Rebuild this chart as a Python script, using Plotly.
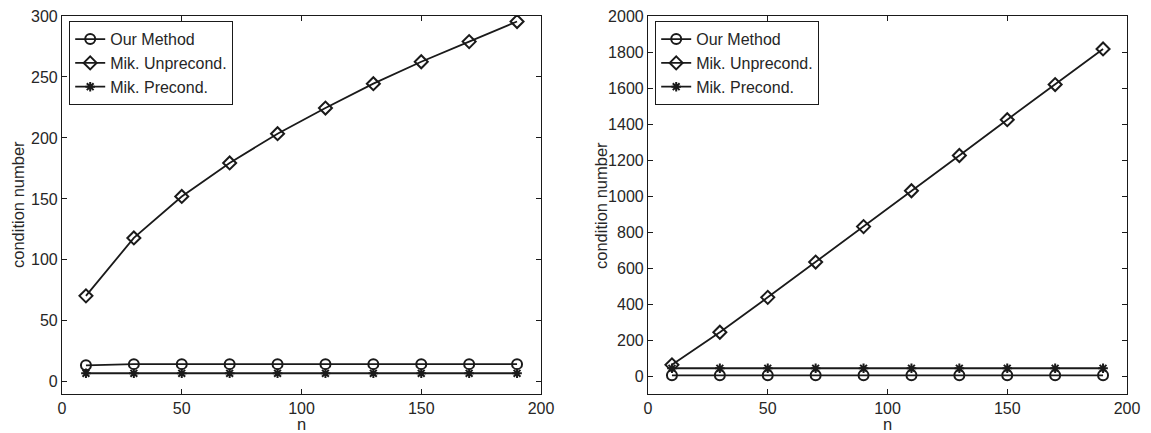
import plotly.graph_objects as go

n = [10, 30, 50, 70, 90, 110, 130, 150, 170, 190]

# Left panel
left_our = [13.5, 14.5, 14.5, 14.5, 14.5, 14.5, 14.5, 14.5, 14.5, 14.5]
left_unpre = [70.5, 118, 152, 179.5, 203.5, 224.5, 244.5, 262.5, 279, 295.5]
left_pre = [7, 7, 7, 7, 7, 7, 7, 7, 7, 7]

# Right panel
right_our = [4, 4, 4, 4, 4, 4, 4, 4, 4, 4]
right_unpre = [62, 243, 437, 633, 830, 1029, 1225, 1424, 1619, 1817]
right_pre = [43, 43, 43, 43, 43, 43, 43, 43, 43, 43]

names = ["Our Method", "Mik. Unprecond.", "Mik. Precond."]
symbols = ["circle-open", "diamond-open", "asterisk-open"]
sizes = [10, 10, 8]

W, H = 1151, 433
LC = "#1a1a1a"
TXT = "#262626"
FONT = "Liberation Sans, Arial, Helvetica, sans-serif"

fig = go.Figure()

panels = [
    ("x", "y", "legend", [left_our, left_unpre, left_pre]),
    ("x2", "y2", "legend2", [right_our, right_unpre, right_pre]),
]
for xa, ya, lg, series in panels:
    for name, sym, sz, vals in zip(names, symbols, sizes, series):
        fig.add_trace(go.Scatter(
            x=n, y=vals, name=name, xaxis=xa, yaxis=ya, legend=lg,
            mode="lines+markers",
            line=dict(color=LC, width=1.8),
            marker=dict(symbol=sym, size=sz, color=LC,
                        line=dict(color=LC, width=2)),
        ))

def xdom(a, b):
    return [a / W, b / W]

ydom = [1 - 394 / H, 1 - 16 / H]

axis_common = dict(
    showline=True, linecolor=LC, linewidth=1.2, mirror="allticks",
    ticks="inside", ticklen=5, tickwidth=1, tickcolor=LC,
    showgrid=False, zeroline=False,
    tickfont=dict(family=FONT, size=16, color=TXT),
    automargin=False,
)

leg_common = dict(xanchor="left", yanchor="top",
                  bordercolor=LC, borderwidth=1.2, bgcolor="white",
                  font=dict(family=FONT, size=16, color=TXT), tracegroupgap=0,
                  itemwidth=30)

fig.update_layout(
    width=W, height=H,
    margin=dict(l=0, r=0, t=0, b=0),
    paper_bgcolor="white", plot_bgcolor="white",
    font=dict(family=FONT, color=TXT),
    xaxis=dict(domain=xdom(62, 541), range=[0, 200], tickvals=[0, 50, 100, 150, 200],
               anchor="y", **axis_common),
    yaxis=dict(domain=ydom, range=[-10, 300], tickvals=[0, 50, 100, 150, 200, 250, 300],
               anchor="x", **axis_common),
    xaxis2=dict(domain=xdom(648, 1127), range=[0, 200], tickvals=[0, 50, 100, 150, 200],
                anchor="y2", **axis_common),
    yaxis2=dict(domain=ydom, range=[-100, 2000],
                tickvals=[0, 200, 400, 600, 800, 1000, 1200, 1400, 1600, 1800, 2000],
                anchor="x2", **axis_common),
    legend=dict(x=69 / W, y=1 - 21 / H, **leg_common),
    legend2=dict(x=655 / W, y=1 - 21 / H, **leg_common),
)

title_font = dict(family=FONT, size=16.5, color=TXT)
for cx in [(62 + 541) / 2, (648 + 1127) / 2]:
    fig.add_annotation(text="n", xref="paper", yref="paper", x=cx / W, y=1 - 424 / H,
                       xanchor="center", yanchor="middle", showarrow=False, font=title_font)
for cx in [18, 601]:
    fig.add_annotation(text="condition number", xref="paper", yref="paper",
                       x=cx / W, y=1 - 205 / H, textangle=-90,
                       xanchor="center", yanchor="middle", showarrow=False, font=title_font)

fig.write_html("out.html", config={"displayModeBar": False},
               post_script="document.body.style.margin='0px';document.body.style.overflow='hidden';")
